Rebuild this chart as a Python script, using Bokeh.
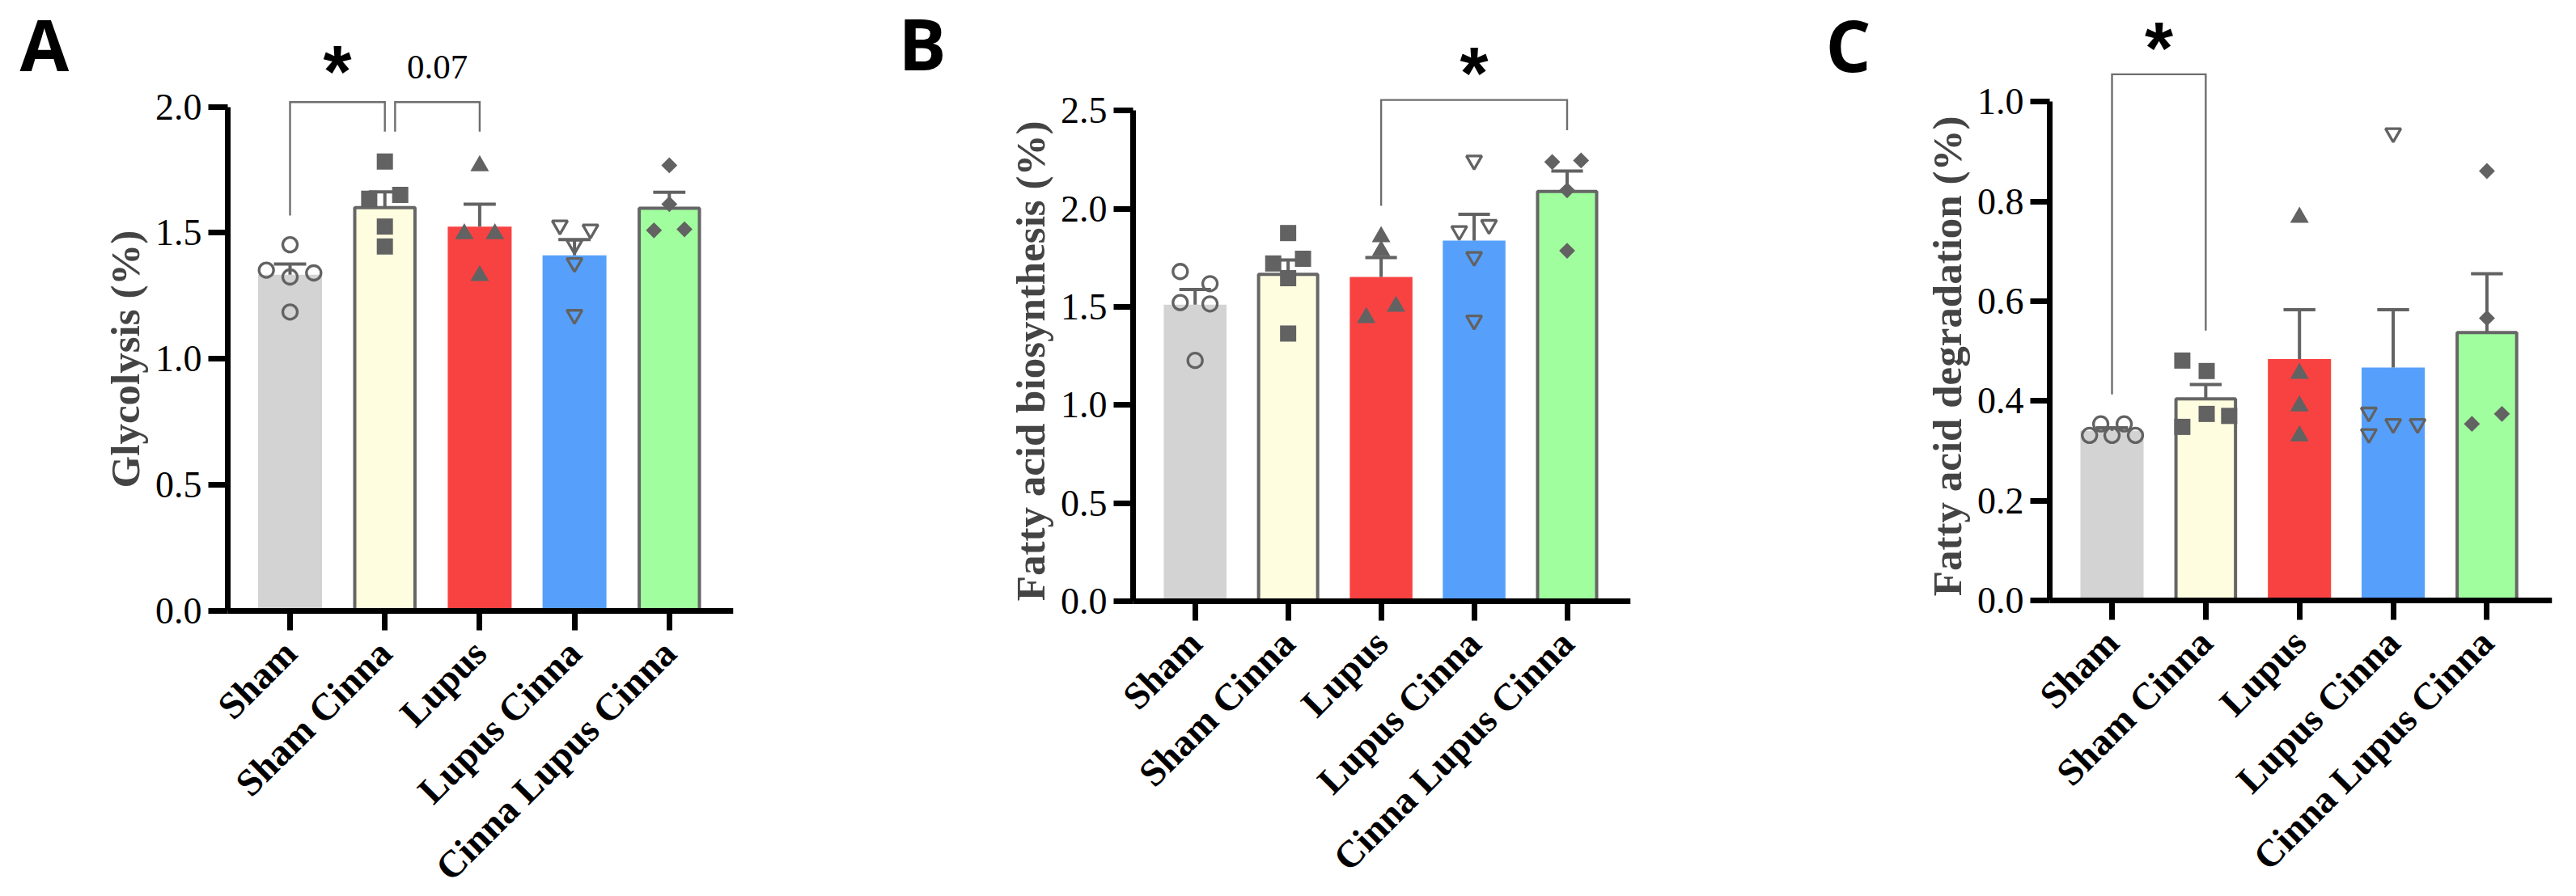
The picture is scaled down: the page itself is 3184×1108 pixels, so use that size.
from math import pi

from bokeh.core.properties import value
from bokeh.embed import file_html
from bokeh.layouts import row
from bokeh.models import FixedTicker, PrintfTickFormatter, Range1d
from bokeh.plotting import figure
from bokeh.resources import INLINE

# ---------------------------------------------------------------- data
groups = ["Sham", "Sham Cinna", "Lupus", "Lupus Cinna", "Cinna Lupus Cinna"]

# A: glycolysis (%)
gly_mean = [1.334, 1.600, 1.525, 1.411, 1.598]
gly_sem = [0.042, 0.063, 0.089, 0.062, 0.063]
gly_sham = [1.453, 1.352, 1.325, 1.341, 1.186]
gly_sham_cinna = [1.783, 1.635, 1.651, 1.525, 1.446]
gly_lupus = [1.766, 1.496, 1.496, 1.330]
gly_lupus_cinna = [1.530, 1.514, 1.453, 1.381, 1.175]
gly_cinna_lupus_cinna = [1.768, 1.614, 1.510, 1.514]

# B: fatty acid biosynthesis (%)
fab_mean = [1.511, 1.666, 1.652, 1.838, 2.088]
fab_sem = [0.077, 0.073, 0.099, 0.134, 0.104]
fab_sham = [1.680, 1.618, 1.522, 1.515, 1.227]
fab_sham_cinna = [1.876, 1.745, 1.721, 1.646, 1.364]
fab_lupus = [1.857, 1.786, 1.502, 1.445]
fab_lupus_cinna = [2.246, 1.887, 1.918, 1.755, 1.431]
fab_cinna_lupus_cinna = [2.238, 2.246, 2.094, 1.786]

# C: fatty acid degradation (%)
fad_mean = [0.340, 0.404, 0.484, 0.467, 0.537]
fad_sem = [0.006, 0.029, 0.099, 0.116, 0.118]
fad_sham = [0.331, 0.354, 0.331, 0.354, 0.331]
fad_sham_cinna = [0.481, 0.460, 0.374, 0.370, 0.348]
fad_lupus = [0.768, 0.455, 0.390, 0.330]
fad_lupus_cinna = [0.937, 0.377, 0.354, 0.354, 0.334]
fad_cinna_lupus_cinna = [0.861, 0.566, 0.374, 0.354]

# horizontal spread of overlapping dots (fraction of a category slot)
gly_spread = [[0, -0.25, 0, 0.25, 0], [0, -0.165, 0.162, 0, 0], [0, -0.162, 0.16, 0],
              [-0.154, 0.168, 0, 0, 0], [0, 0, -0.162, 0.16]]
fab_spread = [[-0.16, 0.16, -0.16, 0.16, 0], [0, 0.16, -0.16, 0, 0], [0, 0, 0.16, -0.16],
              [0, -0.16, 0.16, 0, 0], [-0.16, 0.15, 0, 0]]
fad_spread = [[-0.24, -0.12, 0, 0.13, 0.25], [-0.25, 0.01, 0.01, 0.25, -0.25], [0, 0, 0, 0],
              [0, -0.26, 0, 0.26, -0.26], [0, 0, 0.16, -0.16]]

y_ticks_a = [0.0, 0.5, 1.0, 1.5, 2.0]
y_ticks_b = [0.0, 0.5, 1.0, 1.5, 2.0, 2.5]
y_ticks_c = [0.0, 0.2, 0.4, 0.6, 0.8, 1.0]

# ---------------------------------------------------------------- style
BAR_FILL = ["#D3D3D3", "#FFFDE0", "#F84242", "#56A0FC", "#A1FE9E"]
BAR_EDGE_ALPHA = [0, 1, 0, 0, 1]
EDGE = "#666666"
DOT = "#626262"
BRACKET = "#6E6E6E"
SERIF = "Liberation Serif"
SANS = "Liberation Sans"
FIG_H = 1108

DOT_STYLE = [
    dict(marker="circle", size=18, fill_alpha=0, line_color=DOT, line_width=3.3),
    dict(marker="square", size=20, fill_color=DOT, line_color=None),
    dict(marker="triangle", size=23, fill_color=DOT, line_color=None),
    dict(marker="inverted_triangle", size=19, fill_alpha=0, line_color=DOT, line_width=3.3),
    dict(marker="square", size=14, angle=pi / 4, fill_color=DOT, line_color=None),
]

slots = list(range(len(groups)))   # x position of each group


def panel(letter, letter_px, ylabel, means, sems, dots, spread, ticks, geo, brackets, notes):
    # geo: frame width, right border, px of y=0 from the top, px per y unit,
    #      px per group slot, px of first group centre, px of y axis
    fw, right, zero_px, px_per_unit, slot, first_px, axis_px = geo
    x0 = -first_px / slot
    x1 = x0 + fw / slot
    axis_x = x0 + axis_px / slot
    y_top = zero_px / px_per_unit
    y_bottom = -(FIG_H - zero_px) / px_per_unit
    p = figure(
        x_range=Range1d(x0, x1), y_range=Range1d(y_bottom, y_top),
        frame_width=fw, frame_height=FIG_H,
        min_border_left=0, min_border_right=right,
        min_border_top=0, min_border_bottom=0,
        output_backend="svg", toolbar_location=None,
        background_fill_color="white", border_fill_color="white",
        outline_line_color=None,
    )
    p.title.visible = False
    p.xgrid.grid_line_color = None
    p.ygrid.grid_line_color = None

    # bars
    widths = [0.635 if a else 0.674 for a in BAR_EDGE_ALPHA]
    p.vbar(x=slots, top=means, bottom=0, width=widths, fill_color=BAR_FILL,
           line_color=EDGE, line_alpha=BAR_EDGE_ALPHA, line_width=4)

    # SEM whiskers (upper only)
    tops = [m + s for m, s in zip(means, sems)]
    p.segment(x0=slots, y0=means, x1=slots, y1=tops, line_color=DOT, line_width=4)
    p.segment(x0=[s - 0.17 for s in slots], y0=tops, x1=[s + 0.17 for s in slots],
              y1=tops, line_color=DOT, line_width=4)

    # individual animals
    for s, vals, offs, st in zip(slots, dots, spread, DOT_STYLE):
        p.scatter(x=[s + o for o in offs], y=vals, **st)

    # significance brackets
    for (g0, y0), (g1, y1), ytop in brackets:
        p.line(x=[g0, g0, g1, g1], y=[y0, ytop, ytop, y1],
               line_color=BRACKET, line_width=2.4, line_join="miter")

    for txt, gx, y, font, size, style in notes:
        p.text(x=[gx], y=[y], text=[txt], text_font=value(font), text_font_size=size,
               text_font_style=style, text_align="center", text_baseline="alphabetic",
               text_color="black")

    # panel letter (left edge / anchor height given in figure pixels)
    p.text(x=[x0 + letter_px[0] / slot], y=[(zero_px - letter_px[1]) / px_per_unit],
           text=[letter], text_font=value("Open Sans"), text_font_style="bold",
           text_font_size="88px", text_align="left", text_baseline="alphabetic",
           text_color="black")

    # y axis drawn at a fixed spot inside the figure
    yax = p.yaxis[0]
    yax.fixed_location = axis_x
    yax.bounds = (0, ticks[-1])
    yax.ticker = FixedTicker(ticks=ticks)
    yax.formatter = PrintfTickFormatter(format="%.1f")
    yax.axis_label = ylabel
    yax.axis_label_text_font = SERIF
    yax.axis_label_text_font_style = "bold"
    yax.axis_label_text_font_size = "51px"
    yax.axis_label_standoff = 6
    yax.major_label_standoff = 8
    yax.major_label_text_font_size = "46px"

    # group axis along y = 0
    xax = p.xaxis[0]
    xax.fixed_location = 0
    xax.bounds = (axis_x, x1)
    xax.ticker = FixedTicker(ticks=slots)
    xax.major_label_overrides = {s: g for s, g in zip(slots, groups)}
    xax.major_label_orientation = pi / 4
    xax.major_label_text_font_style = "bold"
    xax.major_label_text_font_size = "47px"
    xax.major_label_standoff = 20

    for ax in (xax, yax):
        ax.axis_line_width = 7
        ax.axis_line_color = "black"
        ax.major_tick_line_width = 7
        ax.major_tick_line_color = "black"
        ax.major_tick_out = 24
        ax.major_tick_in = 0
        ax.minor_tick_line_color = None
        ax.major_label_text_font = SERIF
        ax.major_label_text_color = "black"
    return p


def star(gx, y):
    return ("*", gx, y, SANS, "90px", "bold")


pa = panel(
    "A", (24, 53), "Glycolysis (%)", gly_mean, gly_sem,
    [gly_sham, gly_sham_cinna, gly_lupus, gly_lupus_cinna, gly_cinna_lupus_cinna],
    gly_spread, y_ticks_a, (906, 194, 755, 311.7, 117.2, 358.0, 281.0),
    [((0, 1.569), (1, 1.902), 2.019), ((1.108, 1.902), (2, 1.902), 2.019)],
    [star(0.5, 2.137), ("0.07", 1.554, 2.156, SERIF, "43px", "normal")],
)

pb = panel(
    "B", (10, 52), "Fatty acid biosynthesis  (%)", fab_mean, fab_sem,
    [fab_sham, fab_sham_cinna, fab_lupus, fab_lupus_cinna, fab_cinna_lupus_cinna],
    fab_spread, y_ticks_b, (915, 185, 743, 242.7, 114.95, 376.7, 300.0),
    [((2, 2.015), (4, 2.400), 2.554)],
    [star(3, 2.689)],
)

pc = panel(
    "C", (56, 54), "Fatty acid degradation  (%)", fad_mean, fad_sem,
    [fad_sham, fad_sham_cinna, fad_lupus, fad_lupus_cinna, fad_cinna_lupus_cinna],
    fad_spread, y_ticks_c, (954, 30, 742, 616.7, 115.85, 410.0, 333.0),
    [((0, 0.413), (1, 0.541), 1.055)],
    [star(0.5, 1.1075)],
)

layout = row(pa, pb, pc)
open("out.html", "w").write(file_html(layout, INLINE))
